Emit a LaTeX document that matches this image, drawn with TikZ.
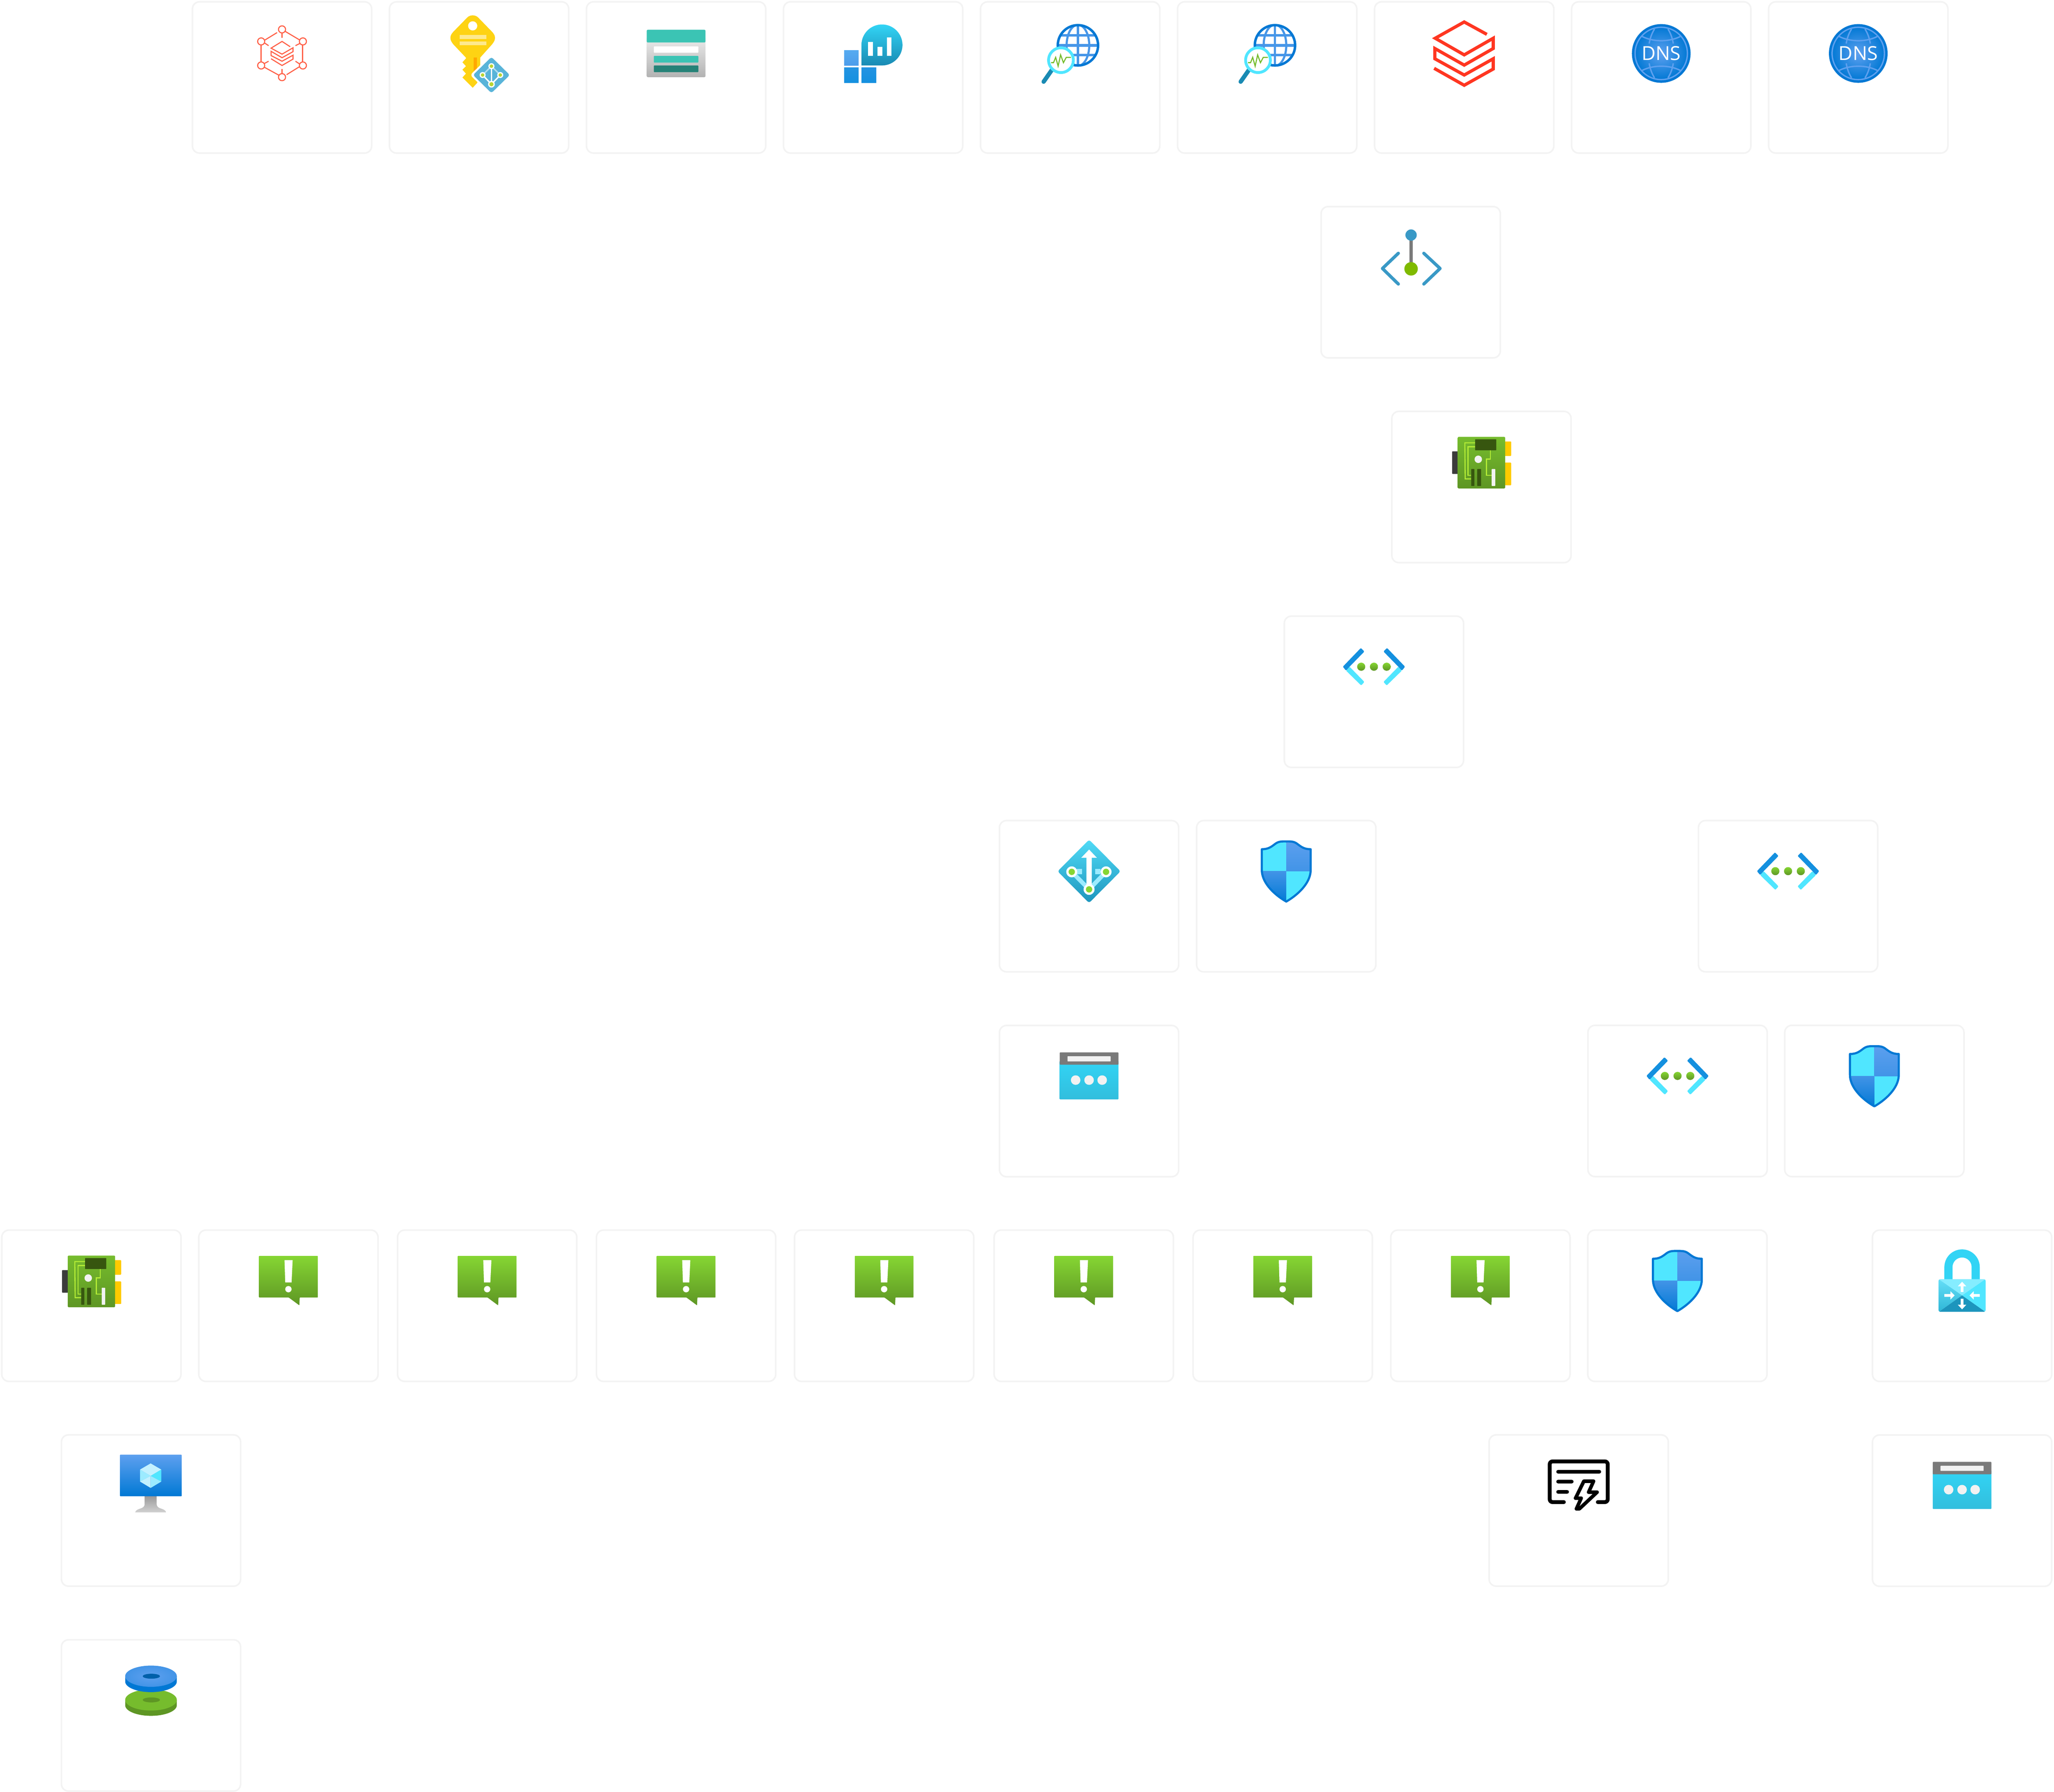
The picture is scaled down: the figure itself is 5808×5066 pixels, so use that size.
\documentclass[tikz,border=0pt]{standalone}
\usepackage{fontspec}
\usetikzlibrary{positioning}
\newfontfamily\dnsfont{Open Sans}

\definecolor{cardedge}{HTML}{F3F3F3}
\definecolor{hexred}{HTML}{FF5F46}
\definecolor{keyyellow}{HTML}{FED313}
\definecolor{keybar}{HTML}{FDE98E}
\definecolor{keyorange}{HTML}{FFA800}
\definecolor{kvblue}{HTML}{59B4D9}
\definecolor{kvlime}{HTML}{B8D432}
\definecolor{kvline}{HTML}{B0DDF0}
\definecolor{teal}{HTML}{3BC4B4}
\definecolor{tealdark}{HTML}{258277}
\definecolor{azdark}{HTML}{0078D4}
\definecolor{azmid}{HTML}{1490DF}
\definecolor{azsoft}{HTML}{5EA0EF}
\definecolor{azsky}{HTML}{50E6FF}
\definecolor{azcyan}{HTML}{32D4F5}
\definecolor{azcyanlow}{HTML}{32BEDD}
\definecolor{azdeep}{HTML}{198AB3}
\definecolor{azpale}{HTML}{9CEBFF}
\definecolor{azfrost}{HTML}{C3F1FF}
\definecolor{leaf}{HTML}{76BC2D}
\definecolor{leaflow}{HTML}{5E9624}
\definecolor{leafhigh}{HTML}{86D633}
\definecolor{lime}{HTML}{B4EC36}
\definecolor{chipdark}{HTML}{37560F}
\definecolor{plugdark}{HTML}{3B3B3B}
\definecolor{gold}{HTML}{FFCA00}
\definecolor{dbxred}{HTML}{FF3621}
\definecolor{pegreen}{HTML}{7FBA00}
\definecolor{peblue}{HTML}{3999C6}
\definecolor{stem}{HTML}{7A7A7A}
\definecolor{snow}{HTML}{F2F2F2}

\def\shieldoutline{(-69,81) .. controls (-50,81) and (-42,74) .. (-30,65) .. controls (-20,58) and (-10,59) .. (0,59) .. controls (10,59) and (20,58) .. (30,65) .. controls (42,74) and (50,81) .. (69,81) -- (69,140) .. controls (69,178) and (30,212) .. (0,229) .. controls (-30,212) and (-69,178) .. (-69,140) -- cycle}

\tikzset{
	card/.style={draw=cardedge, fill=white, rounded corners=0.2cm, line width=0.045cm, minimum width=5.065cm, minimum height=4.275cm, inner sep=0pt, outer sep=0pt},
	dnslabel/.style={text=white, inner sep=0pt, font=\dnsfont\fontsize{15.5}{15.5}\selectfont},
	hexicon/.pic={
		\begin{scope}[draw=hexred, line width=0.03cm]
			\foreach \spotx/\spoty in {0/78, -59/112, 59/112, -59/180, 59/180, 0/213}
				\draw (\spotx,\spoty) circle[radius=10];
			\draw (8,83) -- (50,108);
			\draw (-14,87) -- (-50,109);
			\draw (-59,122) -- (-59,170);
			\draw (58,122) -- (58,170);
			\draw (-50,185) -- (-8,208);
			\draw (50,183) -- (13,206);
			\draw (0,88) -- (0,102);
			\draw (0,190) -- (0,203);
			\draw (-50,116) -- (-38,124);
			\draw (50,118) -- (38,124);
			\draw (-38,168) -- (-51,175);
			\draw (38,168) -- (50,176);
			\draw (23,127) -- (0,112) -- (-31,131) -- (0,148) -- (31,130) -- (31,141) -- (0,158) -- (-31,140) -- (-31,152) -- (0,168) -- (31,151) -- (31,162) -- (0,180) -- (-31,161);
		\end{scope}
	},
	keyicon/.pic={
		\fill[keyyellow] (-37,158) -- (-73,120) .. controls (-79,112) and (-81,108) .. (-81,102) .. controls (-81,96) and (-79,92) .. (-73,85) -- (-34,45) .. controls (-26,36) and (-10,36) .. (-2,45) -- (37,85) .. controls (43,92) and (45,96) .. (45,102) .. controls (45,108) and (43,112) .. (37,120) -- (3,158) -- (3,215) -- (-6,230) -- (-18,243) -- (-47,214) -- (-37,203) -- (-47,192) -- (-37,182) -- (-47,171) -- (-37,160) -- cycle;
		\fill[white] (-18,68) circle[radius=13];
		\fill[keybar] (-55,94) rectangle (21,105);
		\fill[keybar] (-55,112) rectangle (21,123);
		\fill[keyorange] (-15,158) rectangle (-6,195);
		\fill[white, rounded corners=0.08cm] (35,148) -- (96,207) -- (35,266) -- (-25,207) -- cycle;
		\fill[kvblue, rounded corners=0.06cm] (35,156) -- (87,207) -- (35,258) -- (-17,207) -- cycle;
		\draw[kvline, line width=0.04cm] (10,207) -- (35,182) -- (60,207);
		\draw[white, line width=0.035cm] (35,182) -- (35,233);
		\draw[white, line width=0.04cm] (10,207) -- (35,233) -- (60,207);
		\foreach \spotx/\spoty/\spotr in {35/182/5, 10/207/5, 60/207/5, 35/233/6} {
			\fill[white] (\spotx,\spoty) circle[radius=\spotr+3.5];
			\fill[kvlime] (\spotx,\spoty) circle[radius=\spotr];
		}
	},
	tableicon/.pic={
		\shade[top color=black!8, bottom color=black!30, rounded corners=0.03cm] (-83,100) rectangle (83,213);
		\fill[teal, rounded corners=0.03cm] (-83,115) -- (-83,79) -- (83,79) -- (83,115) -- cycle;
		\fill[white, rounded corners=0.015cm] (-63,126) rectangle (63,144);
		\fill[teal, rounded corners=0.015cm] (-63,153) rectangle (63,172);
		\fill[tealdark, rounded corners=0.015cm] (-63,180) rectangle (63,199);
	},
	insighticon/.pic={
		\shade[top color=azsoft!80!azcyan, bottom color=azsoft!75!azmid] (-82,137) rectangle (-41,180);
		\shade[top color=azmid!80!azsoft, bottom color=azmid] (-82,186) rectangle (-41,229);
		\shade[top color=azmid!80!azsoft, bottom color=azmid] (-33,186) rectangle (9,229);
		\shade[top color=azcyan, bottom color=azdeep] (-33,180) -- (-33,122) .. controls (-33,90) and (-7,64) .. (25,64) .. controls (57,64) and (83,90) .. (83,122) .. controls (83,154) and (57,180) .. (25,180) -- cycle;
		\fill[white] (-14,113) rectangle (-1,153);
		\fill[white] (12,127) rectangle (26,153);
		\fill[white] (39,100) rectangle (52,153);
	},
	globeicon/.pic={
		\begin{scope}
			\clip (22,123) circle[radius=58];
			\draw[azsoft!75!azdark, line width=0.06cm] (22,65) -- (22,181);
			\draw[azsoft!75!azdark, line width=0.06cm] (22,123) ellipse[x radius=32, y radius=58];
			\foreach \liney/\linew in {95/0.07cm, 123/0.085cm, 151/0.07cm}
				\draw[azsoft!75!azdark, line width=\linew] (-40,\liney) -- (84,\liney);
		\end{scope}
		\draw[azdark, line width=0.07cm] (22,123) circle[radius=57];
		\draw[azdeep, line width=0.12cm, line cap=round] (-52,193) -- (-75,226);
		\draw[azsky, fill=white, line width=0.08cm] (-26,165) circle[radius=35];
		\draw[leaf, line width=0.03cm] (-54,172) -- (-47,172) -- (-41,157) -- (-34,182) -- (-27,150) -- (-19,172) -- (-11,157) -- (2,157);
	},
	stackicon/.pic={
		\draw[dbxred, line width=0.09cm, miter limit=4] (64,92) -- (0,57) -- (-82,103) -- (0,150) -- (82,103) -- (82,132) -- (0,179) -- (-83,132) -- (-83,161) -- (0,207) -- (82,161) -- (82,190) -- (0,236) -- (-85,188);
	},
	dnsicon/.pic={
		\fill[azdark] (0,146) circle[radius=83];
		\shade[inner color=azsoft, outer color=azdark] (0,146) circle[radius=76];
		\begin{scope}[shift={(0,146)}, draw=azsoft, line width=0.04cm]
			\draw (0,0) circle[radius=74];
			\foreach \flip in {-1,1} {
				\draw (-54,\flip*48) .. controls (-22,\flip*32) and (22,\flip*32) .. (54,\flip*48);
				\draw (-19,\flip*69) .. controls (-28,\flip*55) and (-32,\flip*40) .. (-34,\flip*28);
				\draw (19,\flip*69) .. controls (28,\flip*55) and (32,\flip*40) .. (34,\flip*28);
			}
		\end{scope}
		\node[dnslabel] (label) at (0,146) {DNS};
	},
	endpointicon/.pic={
		\draw[stem, line width=0.1cm] (1,80) -- (1,176);
		\fill[peblue] (1,80.5) circle[radius=16];
		\fill[pegreen] (1,176) circle[radius=19];
		\draw[peblue, line width=0.09cm, line cap=round, line join=round] (-35,132) -- (-80,175) -- (-35,219);
		\draw[peblue, line width=0.09cm, line cap=round, line join=round] (37,132) -- (83,175) -- (37,219);
	},
	nicicon/.pic={
		\fill[plugdark, rounded corners=0.015cm] (-83,113) rectangle (-60,177);
		\fill[gold, rounded corners=0.015cm] (60,85) rectangle (84,126);
		\fill[gold, rounded corners=0.015cm] (60,145) rectangle (84,209);
		\shade[top color=leaf, bottom color=leaflow, rounded corners=0.03cm] (-67,72) rectangle (67,218);
		\begin{scope}[draw=lime, line width=0.03cm]
			\draw (-18,89) -- (-47,89) -- (-46,191) -- (-29,191);
			\draw (-18,100) -- (-38,100) -- (-38,181) -- (-29,181);
			\draw (25,110) -- (25,135) -- (14,135) -- (14,181) -- (29,181);
		\end{scope}
		\fill[chipdark, rounded corners=0.01cm] (-18,79) rectangle (42,110);
		\fill[snow] (-9,135.5) circle[radius=10.5];
		\fill[chipdark, rounded corners=0.01cm] (-29,163) rectangle (-20,211);
		\fill[chipdark, rounded corners=0.01cm] (-12,163) rectangle (-1,211);
		\fill[snow, rounded corners=0.01cm] (29,163) rectangle (39,211);
	},
	vneticon/.pic={
		\begin{scope}[shift={(0,143)}]
			\foreach \flip in {-1,1} {
				\fill[azsky, rounded corners=0.02cm] (\flip*79,11) -- (\flip*69,0) -- (\flip*27,43) -- (\flip*36,53) -- cycle;
				\fill[azmid, rounded corners=0.02cm] (\flip*37,-53) -- (\flip*27,-43) -- (\flip*69,0) -- (\flip*79,11) -- (\flip*88,0) -- cycle;
			}
			\foreach \dotx in {-36,0,36}
				\shade[top color=leafhigh, bottom color=leaflow] (\dotx,0) circle[radius=11.5];
		\end{scope}
	},
	gatewayicon/.pic={
		\shade[top color=azcyan!85!white, bottom color=azdeep!85!azcyan, rounded corners=0.06cm] (0,54) -- (89,143.5) -- (0,233) -- (-89,143.5) -- cycle;
		\draw[azpale, line width=0.12cm] (-49,145) -- (0,194.6) -- (48,145);
		\fill[azpale] (-35,137) rectangle (-20,152);
		\fill[azpale] (17,137) rectangle (32,152);
		\fill[white] (-7.5,194) -- (-7.5,105) -- (-22,105) -- (0,82) -- (22,105) -- (7.5,105) -- (7.5,194) -- cycle;
		\foreach \spotx/\spoty in {-49/145, 48/145, 0/194.6} {
			\fill[white] (\spotx,\spoty) circle[radius=15.5];
			\fill[leafhigh] (\spotx,\spoty) circle[radius=9];
		}
	},
	shieldicon/.pic={
		\begin{scope}
			\clip \shieldoutline;
			\fill[azsky] (-75,50) rectangle (0,143.5);
			\fill[azsky] (0,143.5) rectangle (75,235);
			\shade[top color=azsoft, bottom color=azsoft!70!azdark] (0,50) rectangle (75,143.5);
			\shade[top color=azsoft!70!azdark, bottom color=azdark] (-75,143.5) rectangle (0,235);
		\end{scope}
		\draw[azdark, line width=0.06cm, line join=round] \shieldoutline;
	},
	windowicon/.pic={
		\shade[top color=azcyan, middle color=azcyan, bottom color=azcyanlow, rounded corners=0.015cm] (-83,100) rectangle (83,209);
		\fill[stem, rounded corners=0.015cm] (-83,111) -- (-83,76) -- (83,76) -- (83,111) -- cycle;
		\fill[snow, rounded corners=0.01cm] (-61,87) rectangle (61,101.5);
		\foreach \dotx in {-38,0,37}
			\fill[snow] (\dotx,154.5) circle[radius=13.5];
	},
	alerticon/.pic={
		\shade[top color=leafhigh, bottom color=leaflow, rounded corners=0.01cm] (-83,73) -- (83,73) -- (83,190.6) -- (32,190.6) -- (31,212) -- (30,212) -- (1,190.6) -- (-83,190.6) -- cycle;
		\fill[white] (-11,85) -- (12,85) -- (9,148) -- (-9,148) -- cycle;
		\fill[white] (0,167) circle[radius=9];
	},
	lockicon/.pic={
		\draw[azcyan, line width=0.23cm] (-38.5,142) -- (-38.5,104.5) .. controls (-38.5,83) and (-21,66) .. (0,66) .. controls (21,66) and (38.5,83) .. (38.5,104.5) -- (38.5,142);
		\begin{scope}
			\clip[rounded corners=0.05cm] (-66.7,138.7) rectangle (66.7,231);
			\fill[azsky!70!white] (-67,138) -- (67,138) -- (0,184.6) -- cycle;
			\fill[azsky] (67,138) -- (67,232) -- (0,184.6) -- cycle;
			\shade[top color=azcyan!75!white, bottom color=azcyanlow!85!azdeep] (-67,138) -- (-67,232) -- (0,184.6) -- cycle;
			\fill[azdeep!85!azcyan] (-67,232) -- (67,232) -- (0,184.6) -- cycle;
		\end{scope}
		\fill[white] (-4,175) -- (-4,159) -- (-12,159) -- (0,146) -- (12,159) -- (4,159) -- (4,175) -- cycle;
		\fill[white] (-4,194) -- (-4,211) -- (-12,211) -- (0,224) -- (12,211) -- (4,211) -- (4,194) -- cycle;
		\fill[white] (-50,180.6) -- (-33,180.6) -- (-33,172.6) -- (-21,184.6) -- (-33,196.6) -- (-33,188.6) -- (-50,188.6) -- cycle;
		\fill[white] (50,180.6) -- (33,180.6) -- (33,172.6) -- (21,184.6) -- (33,196.6) -- (33,188.6) -- (50,188.6) -- cycle;
	},
	scripticon/.pic={
		\begin{scope}[draw=black, line width=0.11cm, line cap=round, line join=round]
			\draw[rounded corners=0.08cm] (-42,190) -- (-82,190) -- (-82,75) -- (82,75) -- (82,190) -- (54,190);
			\draw (-58,104) -- (58,104);
			\draw (-58,132) -- (-20,132);
			\draw (-58,161) -- (-33,161);
			\draw[fill=white, line width=0.1cm] (14.5,131) -- (42,131) -- (28,162) -- (52,162) -- (2,209) -- (-6.5,209) -- (7,179) -- (-9,179) -- cycle;
		\end{scope}
	},
	desktopicon/.pic={
		\shade[top color=black!40, bottom color=black!18] (-18,173) -- (-18,195) .. controls (-18,212) and (-40,205) .. (-45,219) -- (43,219) .. controls (38,205) and (16,212) .. (16,195) -- (16,173) -- cycle;
		\shade[top color=azsoft, bottom color=azdark, rounded corners=0.015cm] (-88,56) rectangle (87,173.5);
		\fill[azfrost] (-1,80.6) -- (29,98) -- (-1,116) -- (-31,98) -- cycle;
		\fill[azpale] (-31,98) -- (-1,116) -- (-31,132) -- cycle;
		\fill[azfrost] (-31,132) -- (-1,116) -- (-1,150) -- cycle;
		\fill[azsky] (29,98) -- (-1,116) -- (29,132) -- cycle;
		\fill[azpale] (29,132) -- (-1,116) -- (-1,150) -- cycle;
	},
	diskicon/.pic={
		\fill[leaflow] (-73,170) -- (-73,185) arc[start angle=180, end angle=360, x radius=73, y radius=-30] -- (73,170) -- cycle;
		\fill[leaf] (0,170) ellipse[x radius=73, y radius=30];
		\fill[leaflow] (1,170) ellipse[x radius=24.5, y radius=7];
		\fill[azdark] (-73,103) -- (-73,118) arc[start angle=180, end angle=360, x radius=73, y radius=-30] -- (73,103) -- cycle;
		\shade[inner color=azsoft, outer color=azsoft!70!azdark] (0,103) ellipse[x radius=73, y radius=30];
		\fill[azdark!80!black] (1,103) ellipse[x radius=24.5, y radius=7];
	}
}

\begin{document}
\begin{tikzpicture}[x=0.01cm, y=-0.01cm, node distance=0.503cm]
	\useasboundingbox (0,0) rectangle (5808,5066);

	\node[card] (hexa) at (797.5,219) {};
	\node[card, right=of hexa] (keyv) {};
	\node[card, right=of keyv] (store) {};
	\node[card, right=of store] (stats) {};
	\node[card, right=of stats] (watcha) {};
	\node[card, right=of watcha] (watchb) {};
	\node[card, right=of watchb] (bricks) {};
	\node[card, right=of bricks] (dnsa) {};
	\node[card, right=of dnsa] (dnsb) {};

	\node[card] (endp) at (3989,798) {};
	\node[card] (nica) at (4189,1377) {};
	\node[card] (neta) at (3885,1956) {};

	\node[card] (gate) at (3079.5,2534) {};
	\node[card] (shielda) at (3637,2534) {};
	\node[card] (netb) at (5056,2534) {};

	\node[card, below=1.515cm of gate] (wina) {};
	\node[card] (netc) at (4743.5,3113) {};
	\node[card] (shieldb) at (5300,3113) {};

	\node[card] (nicb) at (258.5,3692) {};
	\node[card] (alerta) at (815.5,3692) {};
	\node[card] (alertb) at (1377.5,3692) {};
	\node[card] (alertc) at (1940,3692) {};
	\node[card] (alertd) at (2500,3692) {};
	\node[card] (alerte) at (3064.5,3692) {};
	\node[card] (alertf) at (3627,3692) {};
	\node[card] (alertg) at (4186,3692) {};
	\node[card] (shieldc) at (4743,3692) {};
	\node[card] (lock) at (5548,3692) {};

	\node[card] (desk) at (427,4271) {};
	\node[card] (script) at (4464,4271) {};
	\node[card, below=1.515cm of lock] (winb) {};
	\node[card, below=1.515cm of desk] (disk) {};

	\pic at (hexa.north) {hexicon};
	\pic at (keyv.north) {keyicon};
	\pic at (store.north) {tableicon};
	\pic at (stats.north) {insighticon};
	\pic at (watcha.north) {globeicon};
	\pic at (watchb.north) {globeicon};
	\pic at (bricks.north) {stackicon};
	\pic (dnsalogo) at (dnsa.north) {dnsicon};
	\pic (dnsblogo) at (dnsb.north) {dnsicon};
	\pic at (endp.north) {endpointicon};
	\pic at (nica.north) {nicicon};
	\pic at (neta.north) {vneticon};
	\pic at (gate.north) {gatewayicon};
	\pic at (shielda.north) {shieldicon};
	\pic at (netb.north) {vneticon};
	\pic at (wina.north) {windowicon};
	\pic at (netc.north) {vneticon};
	\pic at (shieldb.north) {shieldicon};
	\pic at (nicb.north) {nicicon};
	\foreach \alertname in {alerta, alertb, alertc, alertd, alerte, alertf, alertg}
		\pic at (\alertname.north) {alerticon};
	\pic at (shieldc.north) {shieldicon};
	\pic at (lock.north) {lockicon};
	\pic at (desk.north) {desktopicon};
	\pic at (script.north) {scripticon};
	\pic at (winb.north) {windowicon};
	\pic at (disk.north) {diskicon};
\end{tikzpicture}
\end{document}
